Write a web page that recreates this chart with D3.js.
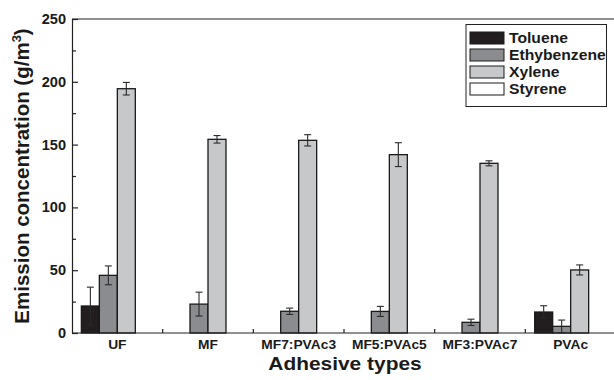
<!DOCTYPE html>
<html><head><meta charset="utf-8">
<script src="https://cdn.jsdelivr.net/npm/d3@7"></script>
<style>
html,body{margin:0;padding:0;background:#fff;}
text{font-family:"Liberation Sans",Arial,Helvetica,sans-serif;font-weight:bold;fill:#1a1a1a;}
</style></head>
<body>
<svg id="chart" width="614" height="380"></svg>
<script>
const categories = ["UF","MF","MF7:PVAc3","MF5:PVAc5","MF3:PVAc7","PVAc"];
const seriesNames = ["Toluene","Ethybenzene","Xylene","Styrene"];
const toluene     = [21.5, 0, 0, 0, 0, 16.7];
const tolueneErr  = [15, 0, 0, 0, 0, 5];
const ethyl       = [45.9, 23, 17.3, 17.2, 8.5, 5.3];
const ethylErr    = [7.5, 9.5, 2.5, 4, 2.5, 5];
const xylene      = [194.5, 154.2, 153.4, 142, 135.1, 50.2];
const xyleneErr   = [5, 3, 4.5, 9.5, 2, 4];
const styrene     = [0, 0, 0, 0, 0, 0];
const styreneErr  = [0, 0, 0, 0, 0, 0];
const yTicks = [0, 50, 100, 150, 200, 250];
const yMinorTicks = [25, 75, 125, 175, 225];

(function(){
const values = [toluene, ethyl, xylene, styrene];
const errors = [tolueneErr, ethylErr, xyleneErr, styreneErr];
const colors = ["#221e1f", "#8b8c8f", "#c7c8ca", "#ffffff"];

function stretch(sel, f) {
  sel.each(function() {
    const w = this.getComputedTextLength();
    this.setAttribute("textLength", (w * f).toFixed(2));
    this.setAttribute("lengthAdjust", "spacingAndGlyphs");
  });
}

const svg = d3.select("#chart");
const mLeft = 72, mRight = 616, mTop = 19, mBottom = 333;

const x0 = d3.scaleBand().domain(categories).range([mLeft, mRight]).paddingInner(0).paddingOuter(0);
const x1 = d3.scaleBand().domain(seriesNames).range([0, x0.bandwidth()]).paddingInner(0).paddingOuter(0.52);
const y = d3.scaleLinear().domain([0, 250]).range([mBottom, mTop]);

svg.append("line").attr("x1", mLeft).attr("x2", 614).attr("y1", y(250)).attr("y2", y(250))
  .attr("stroke", "#222").attr("stroke-width", 1.2);

const data = [];
categories.forEach((c, i) => seriesNames.forEach((s, j) => {
  data.push({c, s, j, v: values[j][i], e: errors[j][i]});
}));

const g = svg.append("g");
g.selectAll("rect.bar").data(data.filter(d => d.v > 0)).enter().append("rect")
  .attr("class", "bar")
  .attr("x", d => x0(d.c) + x1(d.s))
  .attr("width", x1.bandwidth())
  .attr("y", d => y(d.v))
  .attr("height", d => y(0) - y(d.v))
  .attr("fill", d => colors[d.j])
  .attr("stroke", "#1a1a1a").attr("stroke-width", 1.3);

const eb = g.selectAll("g.err").data(data.filter(d => d.e > 0)).enter().append("g")
  .attr("stroke", "#2a2a2a").attr("stroke-width", 1.1);
const cx = d => x0(d.c) + x1(d.s) + x1.bandwidth() / 2;
eb.append("line").attr("x1", cx).attr("x2", cx)
  .attr("y1", d => y(d.v + d.e)).attr("y2", d => y(Math.max(0, d.v - d.e)));
eb.append("line").attr("x1", d => cx(d) - 3.5).attr("x2", d => cx(d) + 3.5)
  .attr("y1", d => y(d.v + d.e)).attr("y2", d => y(d.v + d.e));
eb.append("line").attr("x1", d => cx(d) - 3.5).attr("x2", d => cx(d) + 3.5)
  .attr("y1", d => y(Math.max(0, d.v - d.e))).attr("y2", d => y(Math.max(0, d.v - d.e)));

const yAxis = d3.axisLeft(y).tickValues(yTicks).tickSize(-6).tickPadding(6).tickFormat(d3.format("d"));
const ya = svg.append("g").attr("transform", `translate(${mLeft},0)`).call(yAxis);
ya.select(".domain").attr("stroke", "#222").attr("stroke-width", 1.2);
ya.selectAll(".tick line").attr("stroke", "#222").attr("stroke-width", 1.2);
ya.selectAll(".tick text").style("font-size", "14px").attr("fill", "#1a1a1a");
stretch(ya.selectAll(".tick text"), 1.04);
const yMinor = d3.axisLeft(y).tickValues(yMinorTicks).tickSize(-4).tickFormat("");
const ym = svg.append("g").attr("transform", `translate(${mLeft},0)`).call(yMinor);
ym.select(".domain").remove();
ym.selectAll(".tick line").attr("stroke", "#222").attr("stroke-width", 1.2);

const xa = svg.append("g").attr("transform", `translate(0,${mBottom})`)
  .call(d3.axisBottom(x0).tickSize(0).tickPadding(7));
xa.select(".domain").attr("stroke", "#222").attr("stroke-width", 1.2).attr("d", `M${mLeft},0H614`);
xa.selectAll(".tick text").style("font-size", "13px").attr("fill", "#1a1a1a");
stretch(xa.selectAll(".tick text"), 1.06);
xa.selectAll("line.sep").data(categories.slice(1)).enter().append("line")
  .attr("class", "sep")
  .attr("x1", d => x0(d)).attr("x2", d => x0(d)).attr("y1", 0).attr("y2", -4)
  .attr("stroke", "#222").attr("stroke-width", 1.2);

const xt = svg.append("text").attr("x", 345).attr("y", 370).attr("text-anchor", "middle")
  .style("font-size", "19px").text("Adhesive types");
stretch(xt, 1.1);
const yt = svg.append("text").attr("transform", "translate(29,176) rotate(-90)")
  .attr("text-anchor", "middle").style("font-size", "20.5px");
yt.append("tspan").text("Emission concentration (g/m");
yt.append("tspan").attr("dy", -8).style("font-size", "13px").text("3");
yt.append("tspan").attr("dy", 8).text(")");

const lg = svg.append("g");
lg.append("rect").attr("x", 466).attr("y", 24.5).attr("width", 140.5).attr("height", 82)
  .attr("fill", "#fff").attr("stroke", "#222").attr("stroke-width", 1);
seriesNames.forEach((s, j) => {
  const yy = 32 + j * 17;
  lg.append("rect").attr("x", 470).attr("y", yy).attr("width", 34).attr("height", 12)
    .attr("fill", colors[j]).attr("stroke", "#1a1a1a").attr("stroke-width", 1);
  const t = lg.append("text").attr("x", 509).attr("y", yy + 11).style("font-size", "14px").text(s);
  stretch(t, 1.12);
});
})();
</script>
</body></html>
